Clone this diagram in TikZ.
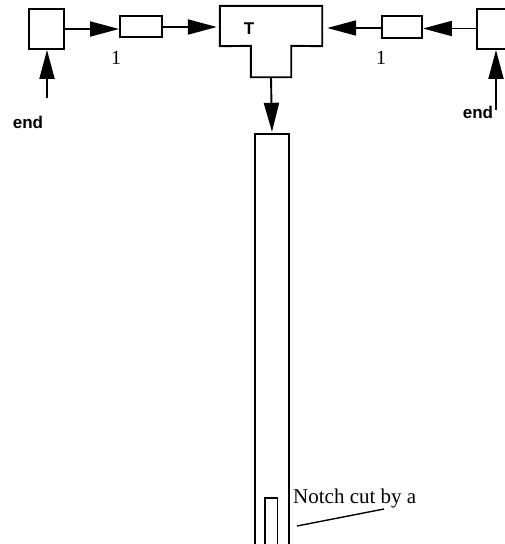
\documentclass[tikz,border=0pt]{standalone}
\usepackage{fontspec}
\setmainfont{Liberation Serif}
\setsansfont{Liberation Sans}
\usetikzlibrary{arrows.meta}

\begin{document}
\begin{tikzpicture}[x=1pt, y=-1pt,
    box/.style={draw, line width=1.9pt, minimum width=#1, inner sep=0pt},
    flow/.style={line width=1.9pt, -{Triangle[length=29pt, width=15pt]}},
    tag/.style={font=\sffamily\bfseries\fontsize{17}{19}\selectfont, inner sep=0pt},
    num/.style={font=\fontsize{20}{22}\selectfont, inner sep=0pt}]
    \useasboundingbox (0,0) rectangle (505,544);

    % Left chain
    \node[box=35pt, minimum height=40pt] (lbox) at (46.5,29) {};
    \node[box=42pt, minimum height=21pt] (lsmall) at (141,26.5) {};
    \node[num] (lone) at (116,58) {1};
    \coordinate (lend) at (47,98);
    \node[tag] (ltag) at (28,122) {end};

    % Right chain
    \node[box=35pt, minimum height=40pt] (rbox) at (494.5,29) {};
    \node[box=40pt, minimum height=22pt] (rsmall) at (402,27) {};
    \node[num] (rone) at (381,58) {1};
    \coordinate (rend) at (496,110);
    \node[tag] (rtag) at (478,112) {end};

    % T piece
    \node[minimum width=102pt, minimum height=40pt, inner sep=0pt] (tee) at (271,26) {};
    \node[minimum width=40pt, minimum height=31pt, inner sep=0pt] (stem) at (271,61.5) {};
    \draw[line width=1.9pt] (tee.north west) -- (tee.north east) -- (tee.south east)
        -- (stem.north east) -- (stem.south east) -- (stem.south west)
        -- (stem.north west) -- (tee.south west) -- cycle;
    \node[tag] (tlabel) at (249,29) {T};

    % Long bar with notch
    \node[minimum width=34pt, minimum height=426pt, inner sep=0pt] (bar) at (272,347) {};
    \draw[line width=1.9pt] (bar.south west) -- (bar.north west) -- (bar.north east) -- (bar.south east);
    \node[minimum width=12pt, minimum height=62pt, inner sep=0pt] (notch) at (271,529) {};
    \draw[line width=1.4pt] (notch.south west) -- (notch.north west) -- (notch.north east) -- (notch.south east);
    \node[font=\fontsize{21}{23}\selectfont, anchor=west, inner sep=0pt] (note) at (293,498) {Notch cut by a};
    \coordinate (pin) at (297,526);
    \draw[line width=1.4pt] (pin) -- (384,509);

    % Arrows
    \draw[flow] (lbox.east |- 0,29) -- (lsmall.west |- 0,29);
    \draw[flow, shorten >=3pt] (lsmall.east |- 0,27) -- (tee.west |- 0,27);
    \draw[flow] (rbox.west |- 0,28.5) -- (rsmall.east |- 0,28.5);
    \draw[flow, shorten >=5pt] (rsmall.west |- 0,28) -- (tee.east |- 0,28);
    \draw[flow, shorten >=2pt] (stem.south) -- (bar.north);
    \draw[flow] (lend) -- (lend |- lbox.south);
    \draw[flow] (rend) -- (rend |- rbox.south);
\end{tikzpicture}
\end{document}
